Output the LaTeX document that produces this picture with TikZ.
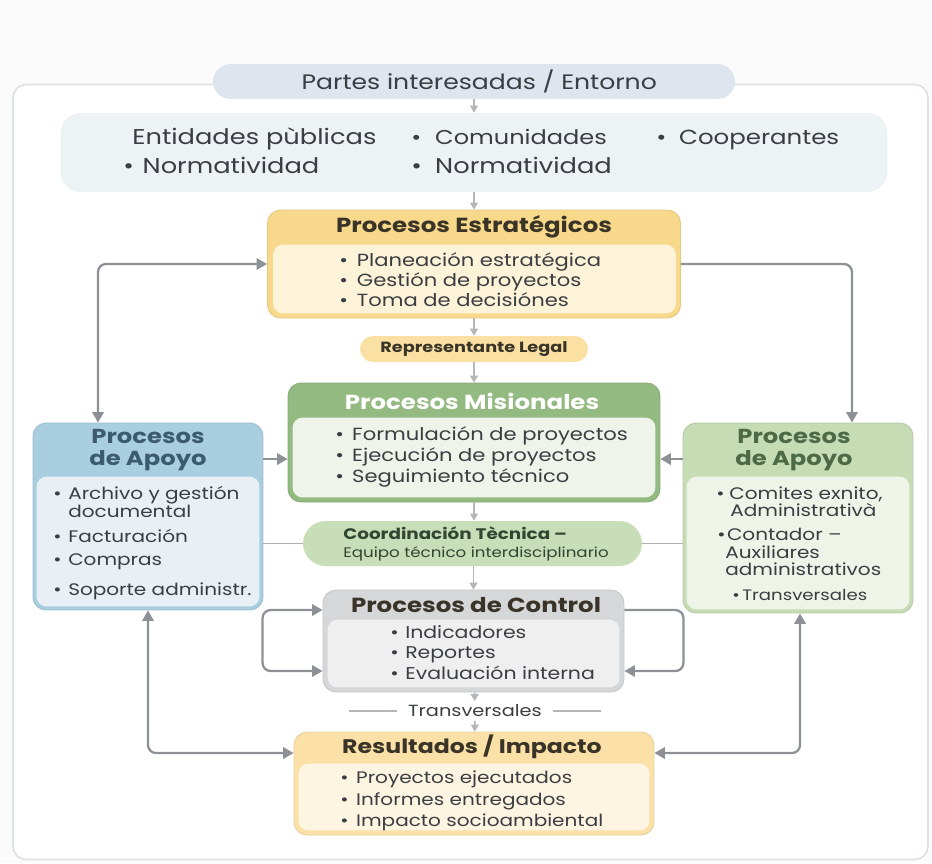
\documentclass[tikz,border=0pt]{standalone}
\usepackage{fontspec}
\setmainfont{Poppins}[FakeStretch=1.2]
\usetikzlibrary{arrows.meta}

\definecolor{framecol}{HTML}{DFE2E5}
\definecolor{pagebg}{HTML}{FBFBFB}
\definecolor{pillblue}{HTML}{DEE5EE}
\definecolor{stakefill}{HTML}{EDF2F4}
\definecolor{esthead}{HTML}{F8D98B}
\definecolor{estbody}{HTML}{FDF3D8}
\definecolor{repfill}{HTML}{FAE1A3}
\definecolor{mishead}{HTML}{93BA80}
\definecolor{misbody}{HTML}{EEF4E9}
\definecolor{coordfill}{HTML}{C8DEB9}
\definecolor{coordtext}{HTML}{2F4631}
\definecolor{ctrlhead}{HTML}{D6D7D9}
\definecolor{ctrlbody}{HTML}{EFEFF0}
\definecolor{reshead}{HTML}{FBE1A8}
\definecolor{resbody}{HTML}{FDF5E1}
\definecolor{aplhead}{HTML}{A9CEE0}
\definecolor{aplbody}{HTML}{E8F0F5}
\definecolor{apltext}{HTML}{3C5B6E}
\definecolor{aprhead}{HTML}{C6DCB4}
\definecolor{aprbody}{HTML}{EEF4E8}
\definecolor{aprtext}{HTML}{4B6A45}
\definecolor{ink}{HTML}{3A3D41}
\definecolor{titleink}{HTML}{3A3428}
\definecolor{arrowgray}{HTML}{8D9095}
\definecolor{softgray}{HTML}{B4B6B9}

% vineta con ancho fijo
\newcommand\bul[1][9.5pt]{\makebox[#1][l]{\textbullet}}

\tikzset{
  frame/.style={draw=framecol, line width=1pt, fill=white, rounded corners=0.26cm},
  panel/.style={fill=#1, draw=#1!92!black, line width=0.5pt, rounded corners=0.26cm, inner sep=0pt},
  pill/.style={fill=#1, rounded corners=0.3cm, inner sep=0pt},
  hdr/.style={inner sep=0pt, text=titleink, font=\bfseries\fontsize{11.6}{13}\selectfont},
  item/.style={anchor=west, inner sep=0pt, text=ink, text height=1.5ex, text depth=.25ex,
    font=\fontsize{10}{11}\selectfont},
  stake/.style={item, font=\fontsize{12.2}{14}\selectfont},
  side/.style={item, font=\fontsize{9.5}{11}\selectfont},
  conn/.style={draw=arrowgray, line width=1.3pt, rounded corners=0.16cm,
    >={Triangle[length=6pt,width=6.5pt]}},
  link/.style={draw=softgray, line width=0.9pt, >={Triangle[length=4pt,width=4.5pt]}},
}

\begin{document}
\begin{tikzpicture}[x=0.02cm, y=-0.02cm]
  \useasboundingbox[fill=pagebg] (0,0) rectangle (932,863);

  % marco general
  \node[frame, minimum width=18.3cm, minimum height=15.5cm] (marco) at (470.5,472) {};

  % --- ENTORNO ---
  \node[pill=pillblue, rounded corners=0.35cm, minimum width=10.44cm, minimum height=0.7cm,
    text=ink, font=\fontsize{11.9}{14}\selectfont] (entorno) at (474,81.5) {\hspace*{6pt}Partes interesadas / Entorno};
  \node[pill=stakefill, rounded corners=0.4cm, minimum width=16.54cm, minimum height=1.58cm] (partes) at (474,152.5) {};
  \node[stake] (pa1) at (132,138) {Entidades pùblicas};
  \node[stake, font=\fontsize{11.4}{14}\selectfont] (pa2) at (411,138) {\bul[13.6pt]Comunidades};
  \node[stake, font=\fontsize{11.6}{14}\selectfont] (pa3) at (656,138) {\bul[13pt]Cooperantes};
  \node[stake] (pa4) at (123,167) {\bul[11pt]Normatividad};
  \node[stake] (pa5) at (411,167) {\bul[13.6pt]Normatividad};

  % --- ESTRATEGICOS ---
  \node[panel=esthead, minimum width=8.26cm, minimum height=2.16cm] (est) at (474,264) {};
  \fill[estbody, rounded corners=0.2cm] ([shift={(0.12cm,-0.7cm)}]est.north west) rectangle ([shift={(-0.1cm,0.1cm)}]est.south east);
  \node[hdr] (est-t) at (474,227) {Procesos Estratégicos};
  \foreach \t [count=\i] in {Planeación estratégica, Gestión de proyectos, Toma de decisiónes}
    \node[item] (est\i) at (339,240+20*\i) {\bul[10pt]\t};

  \node[pill=repfill, rounded corners=0.26cm, minimum width=4.56cm, minimum height=0.52cm,
    text=titleink, font=\bfseries\fontsize{8.4}{10}\selectfont] (rep) at (474,349) {Representante Legal};

  % --- MISIONALES ---
  \node[panel=mishead, minimum width=7.44cm, minimum height=2.38cm] (mis) at (474,442.5) {};
  \fill[misbody, rounded corners=0.2cm] ([shift={(0.1cm,-0.7cm)}]mis.north west) rectangle ([shift={(-0.1cm,0.1cm)}]mis.south east);
  \node[hdr, text=white] (mis-t) at (472,401) {Procesos Misionales};
  \foreach \t [count=\i] in {Formulación de proyectos, Ejecución de proyectos, Seguimiento técnico}
    \node[item] (mis\i) at (335,413+21*\i) {\bul[9.6pt]\t};

  \node[pill=coordfill, rounded corners=0.45cm, minimum width=6.78cm, minimum height=0.9cm] (coord) at (472.5,543.5) {};
  \node[anchor=west, inner sep=0pt, align=left, text=coordtext, font=\fontsize{7.9}{10.2}\selectfont] (coord-t) at (343,543.5)
    {\textbf{\fontsize{8.7}{10.2}\selectfont Coordinación Tècnica –}\\Equipo técnico interdisciplinario};

  % --- CONTROL ---
  \node[panel=ctrlhead, minimum width=6.02cm, minimum height=2.04cm] (ctrl) at (473.5,641) {};
  \fill[ctrlbody, rounded corners=0.2cm] ([shift={(0.1cm,-0.6cm)}]ctrl.north west) rectangle ([shift={(-0.1cm,0.1cm)}]ctrl.south east);
  \node[hdr] (ctrl-t) at (476,605) {Procesos de Control};
  \foreach \t [count=\i] in {Indicadores, Reportes, Evaluación interna}
    \node[item, font=\fontsize{9.7}{11}\selectfont] (ctrl\i) at (390,611.5+20.5*\i) {\bul[8.5pt]\t};

  \node[inner sep=2pt, text=ink, font=\fontsize{9.2}{11}\selectfont] (trv) at (475,711) {Transversales};

  % --- RESULTADOS ---
  \node[panel=reshead, minimum width=7.2cm, minimum height=2.06cm] (res) at (474,783.5) {};
  \fill[resbody, rounded corners=0.2cm] ([shift={(0.1cm,-0.64cm)}]res.north west) rectangle ([shift={(-0.1cm,0.1cm)}]res.south east);
  \node[hdr, font=\bfseries\fontsize{11.2}{13}\selectfont] (res-t) at (472,747) {Resultados / Impacto};
  \foreach \t [count=\i] in {Proyectos ejecutados, Informes entregados, Impacto socioambiental}
    \node[item, font=\fontsize{9.5}{11}\selectfont] (res\i) at (340,756+21.5*\i) {\bul[9pt]\t};

  % --- APOYO (izquierda) ---
  \node[panel=aplhead, minimum width=4.6cm, minimum height=3.74cm] (apL) at (148,516.5) {};
  \fill[aplbody, rounded corners=0.2cm] ([shift={(0.08cm,-1.08cm)}]apL.north west) rectangle ([shift={(-0.08cm,0.08cm)}]apL.south east);
  \node[hdr, text=apltext, align=center, font=\bfseries\fontsize{11.5}{12.5}\selectfont] (apL-t) at (148,450.5) {Procesos\\de Apoyo};
  \node[side] (apL1) at (53,493) {\bul[8.5pt]Archivo y gestión};
  \node[side] (apL2) at (68,511) {documental};
  \node[side] (apL3) at (53,536) {\bul[8.5pt]Facturación};
  \node[side] (apL4) at (53,559) {\bul[8.5pt]Compras};
  \node[side] (apL5) at (53,589) {\bul[8.5pt]Soporte administr.};

  % --- APOYO (derecha) ---
  \node[panel=aprhead, minimum width=4.6cm, minimum height=3.8cm] (apR) at (798,518) {};
  \fill[aprbody, rounded corners=0.2cm] ([shift={(0.08cm,-1.08cm)}]apR.north west) rectangle ([shift={(-0.08cm,0.08cm)}]apR.south east);
  \node[hdr, text=aprtext, align=center, font=\bfseries\fontsize{11.5}{12.5}\selectfont] (apR-t) at (794,450.5) {Procesos\\de Apoyo};
  \node[side] (apR1) at (716,493) {\bul[7.4pt]Comites exnito,};
  \node[side] (apR2) at (730,510) {Administrativà};
  \node[side] (apR3) at (717,534) {\bul[5.5pt]Contador –};
  \node[side] (apR4) at (725,552) {Auxiliares};
  \node[side] (apR5) at (725,569) {administrativos};
  \node[side, font=\fontsize{8.6}{10}\selectfont] (apR6) at (732,594) {\bul[5.7pt]Transversales};

  % flechas centrales
  \draw[link,->] (entorno) -- (partes);
  \draw[link,->] (partes) -- (est);
  \draw[link,->] (est) -- (rep);
  \draw[link,->] (rep) -- (mis);
  \draw[link,->] (mis) -- (coord.north -| mis.south);
  \draw[link,->] (coord.south -| ctrl.north) -- (ctrl);
  \draw[link,->] (ctrl) -- (trv);
  \draw[link,->] (trv) -- (res);
  \draw[link,-] ([xshift=-0.14cm]trv.west) -- ++(-48,0);
  \draw[link,-] ([xshift=0.14cm]trv.east) -- ++(48,0);

  % lineas a coordinacion
  \draw[link,-, draw=arrowgray!70] (apL.east |- coord.west) -- (coord.west);
  \draw[link,-, draw=arrowgray!70] (coord.east) -- (apR.west |- coord.east);

  % conexiones de apoyo
  \draw[conn,<->] ([xshift=-1cm]apL.north) |- (est.west);
  \draw[conn,->] (est.east) -| ([xshift=1.08cm]apR.north);
  \draw[conn,->] (apL.east |- 0,459) -- (mis.west |- 0,459);
  \draw[conn,->] (apR.west |- 0,459) -- (mis.east |- 0,459);
  \draw[conn,<->] (apL.south) |- ([yshift=0.61cm]res.west);
  \draw[conn,<->] ([xshift=0.04cm]apR.south) |- ([yshift=0.61cm]res.east);

  % lazos de control
  \draw[conn,<->] ([yshift=0.62cm]ctrl.west) -- ++(-60,0) |- ([yshift=-0.6cm]ctrl.west);
  \draw[conn,->] ([yshift=0.62cm]ctrl.east) -- ++(59,0) |- ([yshift=-0.6cm]ctrl.east);
\end{tikzpicture}
\end{document}
